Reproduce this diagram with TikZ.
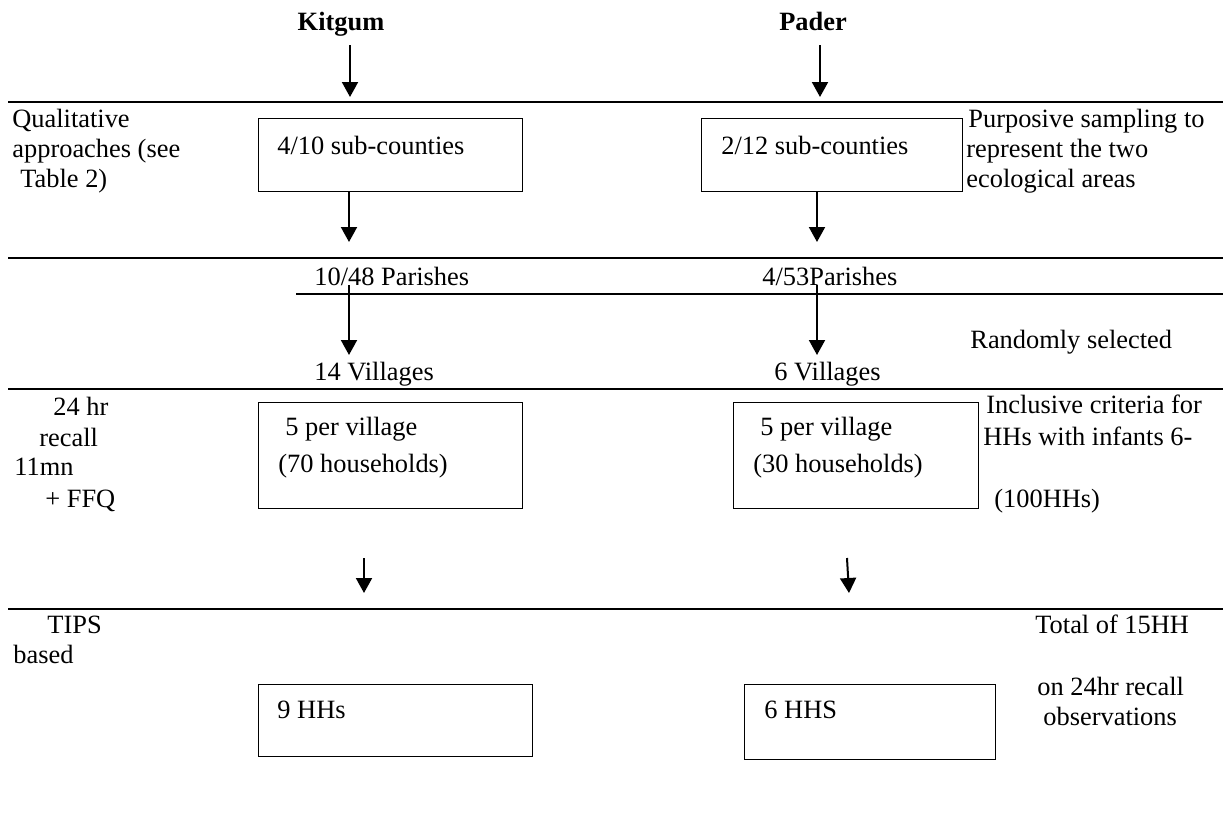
\documentclass[tikz,border=0pt]{standalone}
\usepackage{fontspec}
\setmainfont{Liberation Serif}
\usetikzlibrary{arrows.meta}
\begin{document}
\begin{tikzpicture}[x=0.5pt,y=-0.5pt,
  txt/.style={anchor=base west,inner sep=0pt,font=\fontsize{13.2}{15}\selectfont},
  ttl/.style={anchor=base,inner sep=0pt,font=\fontsize{13.2}{15}\selectfont\bfseries},
  box/.style={draw,line width=0.5pt,inner sep=0pt},
  rule/.style={line width=1pt},
  arr/.style={line width=1pt,-{Triangle[width=8pt,length=7.5pt]}}]
\useasboundingbox (0,0) rectangle (1223,825);
% horizontal rules
\coordinate (l1a) at (8,102);   \coordinate (l1b) at (1223,102);
\coordinate (l2a) at (8,258);   \coordinate (l2b) at (1223,258);
\coordinate (l3a) at (296,294); \coordinate (l3b) at (1223,294);
\coordinate (l4a) at (8,389);   \coordinate (l4b) at (1223,389);
\coordinate (l5a) at (8,609);   \coordinate (l5b) at (1223,609);
\foreach \n in {1,...,5} \draw[rule] (l\n a) -- (l\n b);
% titles
\node[ttl] (kit) at (341,30) {Kitgum};
\node[ttl] (pad) at (813,30) {Pader};
% boxes
\node[box,minimum width=132pt,minimum height=36.5pt] (k1) at (390,154.5) {};
\node[box,minimum width=130.5pt,minimum height=36.5pt] (p1) at (831.5,154.5) {};
\node[box,minimum width=132pt,minimum height=53pt] (k3) at (390,455) {};
\node[box,minimum width=122.5pt,minimum height=53pt] (p3) at (855.5,455) {};
\node[box,minimum width=137pt,minimum height=36pt] (k4) at (395,720) {};
\node[box,minimum width=125.5pt,minimum height=37.5pt] (p4) at (869.5,721.5) {};
% box texts
\node[txt] (k1t) at (277,154) {4/10 sub-counties};
\node[txt] (p1t) at (721,154) {2/12 sub-counties};
\node[txt] (k3a) at (285,435) {5 per village};
\node[txt] (k3b) at (278,472) {(70 households)};
\node[txt] (p3a) at (760,435) {5 per village};
\node[txt] (p3b) at (753,472) {(30 households)};
\node[txt] (k4t) at (277,718) {9 HHs};
\node[txt] (p4t) at (764,718) {6 HHS};
% level labels
\node[txt] (kpar) at (314,285) {10/48 Parishes};
\node[txt] (ppar) at (762,285) {4/53Parishes};
\node[txt] (kvil) at (314,380) {14 Villages};
\node[txt] (pvil) at (774,380) {6 Villages};
% left notes
\node[txt] (q1) at (12,127) {Qualitative};
\node[txt] (q2) at (12,157) {approaches (see};
\node[txt] (q3) at (20,187) {Table 2)};
\node[txt] (r1) at (53,415) {24 hr};
\node[txt] (r2) at (39,446) {recall};
\node[txt] (r3) at (14,475) {11mn};
\node[txt] (r4) at (45,507) {+ FFQ};
\node[txt] (t1) at (47,633) {TIPS};
\node[txt] (t2) at (13,663) {based};
% right notes
\node[txt] (s1) at (968,127) {Purposive sampling to};
\node[txt] (s2) at (966,157) {represent the two};
\node[txt] (s3) at (966,187) {ecological areas};
\node[txt] (rs) at (970,348) {Randomly selected};
\node[txt] (i1) at (986,413) {Inclusive criteria for};
\node[txt] (i2) at (983,445) {HHs with infants 6-};
\node[txt] (i3) at (994,507) {(100HHs)};
\node[txt] (o1) at (1035,633) {Total of 15HH};
\node[txt] (o2) at (1037,695) {on 24hr recall};
\node[txt] (o3) at (1043,725) {observations};
% arrow end points
\coordinate (ka1) at (350,45);  \coordinate (ka2) at (350,97);
\coordinate (pa1) at (820,45);  \coordinate (pa2) at (820,97);
\coordinate (kb1) at (349,191); \coordinate (kb2) at (349,242);
\coordinate (pb1) at (817,191); \coordinate (pb2) at (817,242);
\coordinate (kc1) at (349,285); \coordinate (kc2) at (349,355);
\coordinate (pc1) at (817,285); \coordinate (pc2) at (817,355);
\coordinate (kd1) at (364,558); \coordinate (kd2) at (364,593);
\coordinate (pd1) at (847,558); \coordinate (pd2) at (849,593);
\foreach \a in {ka,pa,kb,pb,kc,pc,kd,pd} \draw[arr] (\a1) -- (\a2);
\end{tikzpicture}
\end{document}
